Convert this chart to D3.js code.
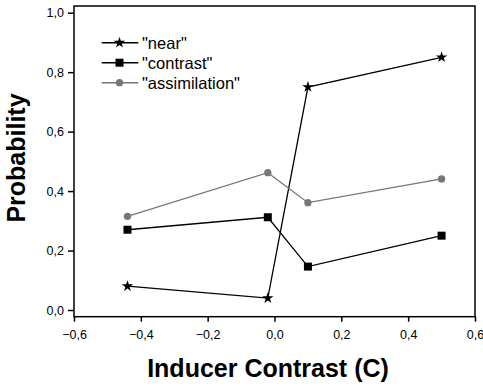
<!DOCTYPE html>
<html>
<head>
<meta charset="utf-8">
<script src="https://cdn.jsdelivr.net/npm/d3@7"></script>
<style>
  body { margin: 0; background: #fff; }
  svg { display: block; font-family: Arial, "Liberation Sans", sans-serif; }
</style>
</head>
<body>
<svg id="chart" width="483" height="386"></svg>
<script>
const xValues = [-0.44, -0.02, 0.10, 0.50];
const nearValues = [0.08, 0.04, 0.75, 0.85];
const contrastValues = [0.27, 0.312, 0.146, 0.25];
const assimilationValues = [0.315, 0.462, 0.361, 0.441];
const seriesNames = ['"near"', '"contrast"', '"assimilation"'];
const xTicks = [-0.6, -0.4, -0.2, 0.0, 0.2, 0.4, 0.6];
const yTicks = [0.0, 0.2, 0.4, 0.6, 0.8, 1.0];
const xTitle = "Inducer Contrast (C)";
const yTitle = "Probability";

(function () {
const svg = d3.select("#chart");
const pLeft = 74, pRight = 475, pTop = 6, pBottom = 316.7;
const x = d3.scaleLinear().domain([-0.6, 0.6]).range([pLeft, pRight]);
const y = d3.scaleLinear().domain([0, 1]).range([310, 12.7]);
const fmt = d => d3.format(".1f")(d).replace(".", ",");

const series = [
  { name: seriesNames[0], values: nearValues, color: "#000", symbol: d3.symbolStar, size: 40 },
  { name: seriesNames[1], values: contrastValues, color: "#000", symbol: d3.symbolSquare, size: 64 },
  { name: seriesNames[2], values: assimilationValues, color: "#777", symbol: d3.symbolCircle, size: 42 }
];

// frame
svg.append("rect").attr("x", pLeft).attr("y", pTop)
  .attr("width", pRight - pLeft).attr("height", pBottom - pTop)
  .attr("fill", "none").attr("stroke", "#000").attr("stroke-width", 1.5);

// axes
const xAxis = d3.axisBottom(x).tickValues(xTicks).tickFormat(fmt).tickSize(5).tickPadding(8);
const gx = svg.append("g").attr("transform", `translate(0,${pBottom})`).call(xAxis);
gx.select(".domain").remove();
gx.selectAll("line").attr("stroke-width", 1.5);
gx.selectAll("text").attr("font-size", 12.5).attr("fill", "#000").attr("font-family", "Arial, 'Liberation Sans', sans-serif");

const yAxis = d3.axisLeft(y).tickValues(yTicks).tickFormat(fmt).tickSize(6).tickPadding(4);
const gy = svg.append("g").attr("transform", `translate(${pLeft},0)`).call(yAxis);
gy.select(".domain").remove();
gy.selectAll("line").attr("stroke-width", 1.5);
gy.selectAll("text").attr("font-size", 12.5).attr("fill", "#000").attr("font-family", "Arial, 'Liberation Sans', sans-serif");

// lines and markers
const line = d3.line().x((d, i) => x(xValues[i])).y(d => y(d));
series.forEach(s => {
  svg.append("path").datum(s.values).attr("d", line)
    .attr("fill", "none").attr("stroke", s.color).attr("stroke-width", 1.3);
  svg.selectAll(null).data(s.values).enter().append("path")
    .attr("d", d3.symbol().type(s.symbol).size(s.size))
    .attr("transform", (d, i) => `translate(${x(xValues[i])},${y(d)})`)
    .attr("fill", s.color);
});

// legend
const lg = svg.append("g");
series.forEach((s, i) => {
  const ly = 42.7 + i * 20;
  lg.append("line").attr("x1", 101.7).attr("x2", 138.3).attr("y1", ly).attr("y2", ly)
    .attr("stroke", s.color).attr("stroke-width", 1.6);
  lg.append("path").attr("d", d3.symbol().type(s.symbol).size(s.size))
    .attr("transform", `translate(119.5,${ly})`).attr("fill", s.color);
  lg.append("text").attr("x", 142).attr("y", ly + 6).attr("font-size", 16.5)
    .attr("fill", "#000").text(s.name);
});

// titles
svg.append("text").attr("x", 268).attr("y", 377).attr("text-anchor", "middle")
  .attr("font-size", 25).attr("font-weight", "bold").text(xTitle);
svg.append("text").attr("transform", "translate(25,158) rotate(-90)").attr("text-anchor", "middle")
  .attr("font-size", 25).attr("font-weight", "bold").text(yTitle);
})();
</script>
</body>
</html>
